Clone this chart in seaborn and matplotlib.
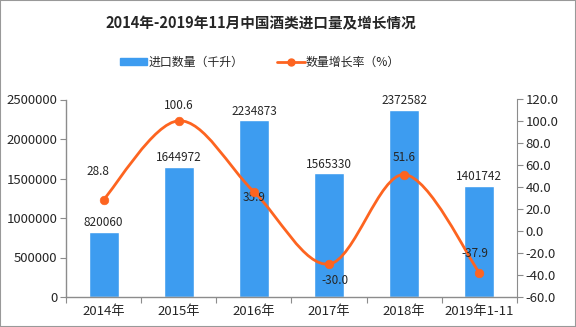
import numpy as np
import pandas as pd
import matplotlib
matplotlib.use("Agg")
import matplotlib.pyplot as plt
from matplotlib.path import Path
from matplotlib.patches import PathPatch, Rectangle
from matplotlib.lines import Line2D
from matplotlib.patches import Patch
import seaborn as sns

# ---- data ----
categories = ["2014年", "2015年", "2016年", "2017年", "2018年", "2019年1-11"]
import_volume = [820060, 1644972, 2234873, 1565330, 2372582, 1401742]
growth_rate = [28.8, 100.6, 35.9, -30.0, 51.6, -37.9]
left_ticks = [0, 500000, 1000000, 1500000, 2000000, 2500000]
right_ticks = [-60, -40, -20, 0, 20, 40, 60, 80, 100, 120]
title = "2014年-2019年11月中国酒类进口量及增长情况"
bar_name = "进口数量（千升）"
line_name = "数量增长率（%）"

# label offsets (points) for growth labels
rate_offsets = [(-4, 20), (0, 11), (0, -4), (4, -12), (0, 12), (-3, 14)]

sns.set_style("white")
plt.rcParams["font.family"] = ["Noto Sans CJK SC", "DejaVu Sans"]

BAR = "#3d9cf0"
LINE = "#fd6420"
GRAY = "#8c8c8c"

fig = plt.figure(figsize=(5.76, 3.27), dpi=100)
ax = fig.add_axes([66 / 576, 1 - 297 / 327, (517 - 66) / 576, (297 - 99.5) / 327])

df = pd.DataFrame({"cat": categories, "vol": import_volume})
sns.barplot(data=df, x="cat", y="vol", color=BAR, width=0.4, ax=ax, saturation=1)

ax.set_xlim(-0.5, len(categories) - 0.5)
ax.set_ylim(0, 2500000)
ax.set_yticks(left_ticks)
ax.set_yticklabels([str(v) for v in left_ticks])
ax.set_xlabel("")
ax.set_ylabel("")

# x ticks: boundaries as tick marks, labels at centers
xs = np.arange(len(categories))
ax.set_xticks(np.arange(len(categories) + 1) - 0.5)
ax.set_xticklabels([""] * (len(categories) + 1))
ax.set_xticks(xs, minor=True)
ax.set_xticklabels(categories, minor=True)
ax.tick_params(axis="x", which="major", length=4, color=GRAY, direction="out", bottom=True)
ax.tick_params(axis="x", which="minor", length=0, labelsize=9.5, pad=6)
ax.tick_params(axis="y", length=4, color=GRAY, direction="out", labelsize=9.5, left=True, pad=2)

for s in ["left", "bottom"]:
    ax.spines[s].set_color(GRAY)
    ax.spines[s].set_linewidth(1)
ax.spines["top"].set_visible(False)
ax.spines["right"].set_visible(False)

for x, v in zip(xs, import_volume):
    ax.annotate(str(v), (x, v), xytext=(0, 2), textcoords="offset points",
                ha="center", va="bottom", fontsize=8.5)

# ---- line on twin axis ----
ax2 = ax.twinx()
ax2.set_ylim(-60, 120)
ax2.set_yticks(right_ticks)
ax2.set_yticklabels([f"{v:.1f}" for v in right_ticks])
ax2.tick_params(axis="y", length=4, color=GRAY, direction="out", labelsize=9.5, right=True, pad=2)
for s in ["left", "top", "bottom"]:
    ax2.spines[s].set_visible(False)
ax2.spines["right"].set_color(GRAY)
ax2.grid(False)

# smooth curve (Catmull-Rom -> cubic Bezier) through the data points
pts = np.column_stack([xs.astype(float), np.array(growth_rate, dtype=float)])
verts = [tuple(pts[0])]
codes = [Path.MOVETO]
n = len(pts)
for i in range(n - 1):
    p0 = pts[i - 1] if i > 0 else pts[i]
    p1 = pts[i]
    p2 = pts[i + 1]
    p3 = pts[i + 2] if i + 2 < n else pts[i + 1]
    c1 = p1 + (p2 - p0) / 6.0
    c2 = p2 - (p3 - p1) / 6.0
    verts += [tuple(c1), tuple(c2), tuple(p2)]
    codes += [Path.CURVE4] * 3
ax2.add_patch(PathPatch(Path(verts, codes), facecolor="none", edgecolor=LINE, lw=2.0, zorder=3))
sns.scatterplot(x=xs, y=growth_rate, color=LINE, s=38, edgecolor=LINE, ax=ax2, zorder=4, legend=False)

for x, v, off in zip(xs, growth_rate, rate_offsets):
    ax2.annotate(f"{v:.1f}", (x, v), xytext=off, textcoords="offset points",
                 ha="center", va="center", fontsize=8.5)

# ---- title & legend ----
fig.text(261 / 576, 1 - 23 / 327, title, ha="center", va="center", fontsize=10.5, fontweight="bold")
handles = [Patch(facecolor=BAR, edgecolor=BAR),
           Line2D([0], [0], color=LINE, lw=2, marker="o", markersize=5)]
fig.legend(handles, [bar_name, line_name], loc="center", bbox_to_anchor=(260 / 576, 1 - 62 / 327),
           ncol=2, frameon=False, fontsize=8.6, handlelength=2.3, handleheight=0.5,
           handletextpad=0.1, columnspacing=2.8)

fig.add_artist(Rectangle((0, 0), 1, 1, transform=fig.transFigure, fill=False,
                         edgecolor="#999999", lw=1.5))

fig.savefig("out.png", dpi=100)
